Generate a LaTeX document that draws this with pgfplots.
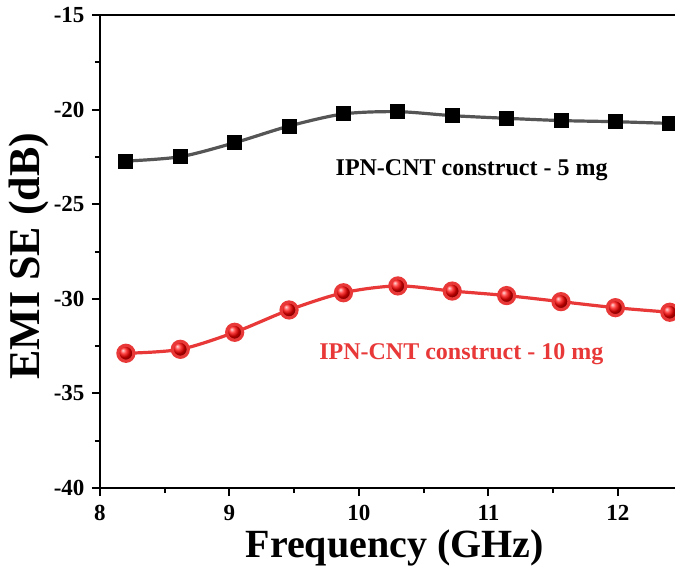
\documentclass[border=0pt]{standalone}
\usepackage{pgfplots}
\pgfplotsset{compat=1.18}
\usepackage{fontspec}
\setmainfont{Liberation Serif}
\definecolor{curvegray}{RGB}{85,85,85}
\definecolor{curvered}{RGB}{232,56,56}
\begin{document}
\begin{tikzpicture}
\begin{axis}[
  name=ax,
  scale only axis,
  width=580pt, height=473pt,
  xmin=8, xmax=12.479,
  ymin=-40, ymax=-15,
  xtick={8,9,10,11,12},
  ytick={-40,-35,-30,-25,-20,-15},
  yticklabels={-40,-35,-30,-25,-20,-15},
  minor x tick num=1, minor y tick num=1,
  tick pos=left, tick align=outside,
  major tick length=8pt, minor tick length=5pt,
  every tick/.style={black, line width=2pt},
  axis line style={line width=2.2pt},
  /pgf/number format/assume math mode=true,
  ticklabel style={font=\bfseries\fontsize{23}{23}\selectfont},
  xticklabel style={yshift=-6pt},
  yticklabel style={xshift=-4pt},
  xlabel={Frequency (GHz)},
  ylabel={EMI SE (dB)},
  xlabel style={font=\bfseries\fontsize{40}{40}\selectfont,
    at={(axis description cs:0.508,0)}, anchor=center, yshift=-60pt},
  ylabel style={font=\bfseries\fontsize{44}{44}\selectfont,
    at={(axis description cs:0,0.49)}, anchor=center, yshift=71pt},
]
\addplot[curvegray, line width=3.2pt, smooth, mark=square*,
  mark options={black, fill=black, mark size=7pt, line width=0pt}]
  coordinates {
    (8.20,-22.72) (8.62,-22.49) (9.04,-21.75) (9.46,-20.87)
    (9.88,-20.23) (10.30,-20.11) (10.72,-20.32) (11.14,-20.46)
    (11.56,-20.58) (11.98,-20.64) (12.40,-20.73)
  };
\addplot[curvered, line width=3.2pt, smooth, mark=ball,
  mark options={ball color=red, mark size=8pt}]
  coordinates {
    (8.20,-32.88) (8.62,-32.67) (9.04,-31.77) (9.46,-30.59)
    (9.88,-29.68) (10.30,-29.32) (10.72,-29.59) (11.14,-29.83)
    (11.56,-30.15) (11.98,-30.47) (12.40,-30.71)
  };
\node[font=\bfseries\fontsize{24}{24}\selectfont, black]
  at (axis cs:10.87,-23.19) {IPN-CNT construct - 5 mg};
\node[font=\bfseries\fontsize{24}{24}\selectfont, text=curvered]
  at (axis cs:10.79,-32.92) {IPN-CNT construct - 10 mg};
\end{axis}
\pgfresetboundingbox
\path[use as bounding box] ([xshift=-100pt,yshift=-86pt]ax.south west)
  rectangle ([xshift=575pt,yshift=488pt]ax.south west);
\end{tikzpicture}
\end{document}
